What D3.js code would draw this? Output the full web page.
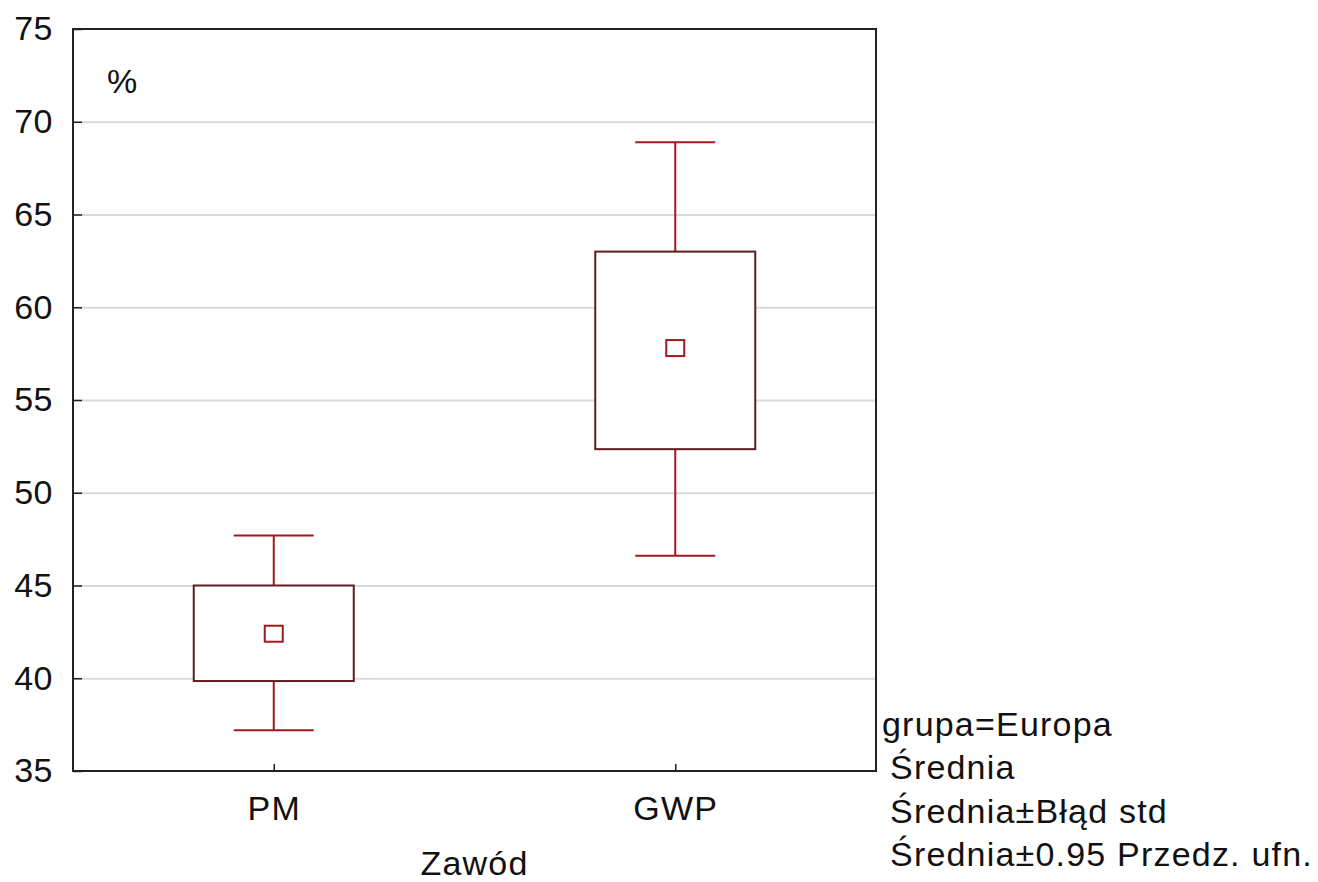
<!DOCTYPE html>
<html>
<head>
<meta charset="utf-8">
<script src="https://cdn.jsdelivr.net/npm/d3@7/dist/d3.min.js"></script>
<style>
  body { margin: 0; background: #fff; }
  svg text { font-family: "Liberation Sans", Arial, sans-serif; fill: #111; }
</style>
</head>
<body>
<div class="chart"></div>
<script>
// values
const GROUPS = ["PM", "GWP"];
const MEANS = [42.4, 57.8];
const SE_LOW = [39.85, 52.35];
const SE_HIGH = [45.0, 63.0];
const CI_LOW = [37.2, 46.6];
const CI_HIGH = [47.7, 68.9];
const Y_TICKS = [35, 40, 45, 50, 55, 60, 65, 70, 75];
const LEGEND_LINES = ["grupa=Europa", "Średnia", "Średnia±Błąd std", "Średnia±0.95 Przedz. ufn."];

const WIDTH = 1318, HEIGHT = 882;
const margin = { top: 29, right: 442, bottom: 111, left: 73 };
const plotW = WIDTH - margin.left - margin.right;
const plotH = HEIGHT - margin.top - margin.bottom;

const BOX_COLOR = "#5e1e1e";
const WHISKER_COLOR = "#a01a1f";
const FONT = "34px";

const data = GROUPS.map((g, i) => ({
  name: g,
  mean: MEANS[i],
  seLow: SE_LOW[i], seHigh: SE_HIGH[i],
  ciLow: CI_LOW[i], ciHigh: CI_HIGH[i],
}));

const svg = d3.select(".chart").append("svg")
  .attr("width", WIDTH)
  .attr("height", HEIGHT);

const g = svg.append("g").attr("transform", `translate(${margin.left},${margin.top})`);

const x = d3.scalePoint().domain(GROUPS).range([0, plotW]).padding(0.5);
const y = d3.scaleLinear().domain([35, 75]).range([plotH, 0]);

// gridlines
g.append("g")
  .attr("class", "grid")
  .call(d3.axisLeft(y).tickValues(Y_TICKS.slice(1, -1)).tickSize(-plotW).tickFormat(""))
  .call(s => s.select(".domain").remove())
  .call(s => s.selectAll("line").attr("stroke", "#d9d9d9").attr("stroke-width", 2));

// y axis, ticks inside the frame
g.append("g")
  .attr("class", "y-axis")
  .call(d3.axisLeft(y).tickValues(Y_TICKS).tickSizeInner(-9).tickSizeOuter(0).tickPadding(20))
  .call(s => s.select(".domain").remove())
  .call(s => s.selectAll("line").attr("stroke", "#222").attr("stroke-width", 1.5))
  .call(s => s.selectAll("text")
    .attr("font-size", FONT)
    .attr("letter-spacing", "0.5px")
    .attr("fill", "#111")
    .attr("dy", "0.32em"));

// x axis
g.append("g")
  .attr("class", "x-axis")
  .attr("transform", `translate(0,${plotH})`)
  .call(d3.axisBottom(x).tickSizeInner(-7).tickSizeOuter(0).tickPadding(25))
  .call(s => s.select(".domain").remove())
  .call(s => s.selectAll("line").attr("stroke", "#222").attr("stroke-width", 1.5))
  .call(s => s.selectAll("text")
    .attr("font-size", FONT)
    .attr("letter-spacing", "1.2px")
    .attr("fill", "#111"));

// frame
g.append("rect")
  .attr("width", plotW)
  .attr("height", plotH)
  .attr("fill", "none")
  .attr("stroke", "#222")
  .attr("stroke-width", 2);

// whiskers (0.95 CI)
const boxHalf = 80, capHalf = 40;
const items = g.append("g").attr("class", "boxes")
  .selectAll("g")
  .data(data)
  .join("g");

items.append("line")
  .attr("x1", d => x(d.name)).attr("x2", d => x(d.name))
  .attr("y1", d => y(d.ciHigh)).attr("y2", d => y(d.ciLow))
  .attr("stroke", WHISKER_COLOR).attr("stroke-width", 2);

items.selectAll(".cap")
  .data(d => [[d.name, d.ciHigh], [d.name, d.ciLow]])
  .join("line")
  .attr("class", "cap")
  .attr("x1", d => x(d[0]) - capHalf).attr("x2", d => x(d[0]) + capHalf)
  .attr("y1", d => y(d[1])).attr("y2", d => y(d[1]))
  .attr("stroke", WHISKER_COLOR).attr("stroke-width", 2);

// box (mean ± std error)
items.append("rect")
  .attr("x", d => x(d.name) - boxHalf)
  .attr("width", boxHalf * 2)
  .attr("y", d => y(d.seHigh))
  .attr("height", d => y(d.seLow) - y(d.seHigh))
  .attr("fill", "#fff")
  .attr("stroke", BOX_COLOR)
  .attr("stroke-width", 2);

// mean marker
items.append("rect")
  .attr("x", d => x(d.name) - 9)
  .attr("y", d => y(d.mean) - 8)
  .attr("width", 18)
  .attr("height", 16)
  .attr("fill", "#fff")
  .attr("stroke", WHISKER_COLOR)
  .attr("stroke-width", 2);

// "%" label inside the plot
g.append("text")
  .attr("x", 34)
  .attr("y", 64)
  .attr("font-size", FONT)
  .text("%");

// x axis title
svg.append("text")
  .attr("x", margin.left + plotW / 2)
  .attr("y", 875)
  .attr("text-anchor", "middle")
  .attr("font-size", FONT)
  .attr("letter-spacing", "1.2px")
  .text("Zawód");

// legend text
svg.append("g")
  .attr("class", "legend")
  .selectAll("text")
  .data(LEGEND_LINES)
  .join("text")
  .attr("x", (d, i) => i === 0 ? 882 : 890)
  .attr("y", (d, i) => 736 + i * 43.4)
  .attr("font-size", FONT)
  .attr("letter-spacing", "1.2px")
  .text(d => d);
</script>
</body>
</html>
